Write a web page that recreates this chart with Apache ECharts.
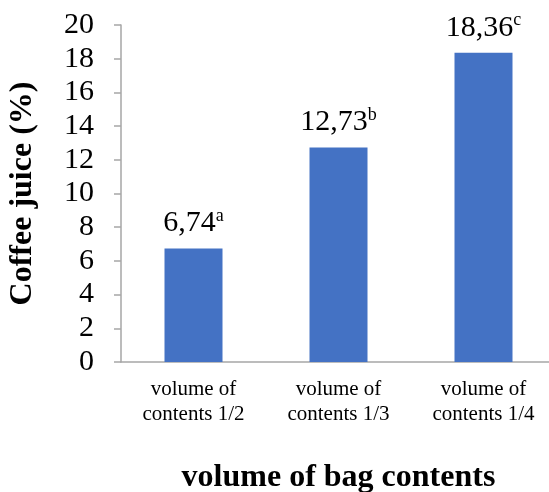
<!DOCTYPE html>
<html>
<head>
<meta charset="UTF-8">
<script src="https://cdn.jsdelivr.net/npm/echarts@6/dist/echarts.min.js"></script>
<style>
  html, body { margin: 0; padding: 0; background: #fff; }
  #chart { width: 549px; height: 492px; }
</style>
</head>
<body>
<div id="chart"></div>
<script>
const categories = ['volume of\ncontents 1/2', 'volume of\ncontents 1/3', 'volume of\ncontents 1/4'];
const values = [6.74, 12.73, 18.36];
const valueTexts = ['6,74', '12,73', '18,36'];
const letters = ['a', 'b', 'c'];

const font = '"Liberation Serif", "Times New Roman", serif';
const axisGray = '#a6a6a6';

const chart = echarts.init(document.getElementById('chart'), null, { renderer: 'canvas' });

chart.setOption({
  backgroundColor: '#fff',
  animation: false,
  grid: { left: 121, right: -7, top: 25, bottom: 130, containLabel: false, outerBoundsMode: 'none' },
  xAxis: {
    type: 'category',
    data: categories,
    name: 'volume of bag contents',
    nameLocation: 'middle',
    nameGap: 100,
    nameTextStyle: { fontFamily: font, fontSize: 32, fontWeight: 'bold', color: '#000' },
    axisLine: { lineStyle: { color: axisGray, width: 1.5 } },
    axisTick: { show: false },
    axisLabel: {
      fontFamily: font, fontSize: 21, color: '#000', lineHeight: 25, margin: 15
    }
  },
  yAxis: {
    type: 'value',
    min: 0,
    max: 20,
    interval: 2,
    name: 'Coffee juice (%)',
    nameLocation: 'middle',
    nameGap: 82,
    nameTextStyle: { fontFamily: font, fontSize: 32, fontWeight: 'bold', color: '#000' },
    axisLine: { show: true, lineStyle: { color: axisGray, width: 1.5 } },
    axisTick: { show: true, length: 7, lineStyle: { color: axisGray, width: 1.5 } },
    splitLine: { show: false },
    axisLabel: { fontFamily: font, fontSize: 30, color: '#000', margin: 27 }
  },
  series: [{
    type: 'bar',
    data: values,
    barWidth: 58,
    itemStyle: { color: '#4472C4' },
    label: {
      show: true,
      position: 'top',
      distance: 9,
      formatter: p => '{v|' + valueTexts[p.dataIndex] + '}{s|' + letters[p.dataIndex] + '}',
      rich: {
        v: { fontFamily: font, fontSize: 30, color: '#000', lineHeight: 32 },
        s: { fontFamily: font, fontSize: 18, color: '#000', lineHeight: 32, verticalAlign: 'top', padding: [0, 0, 10, 0] }
      }
    }
  }]
});
</script>
</body>
</html>
